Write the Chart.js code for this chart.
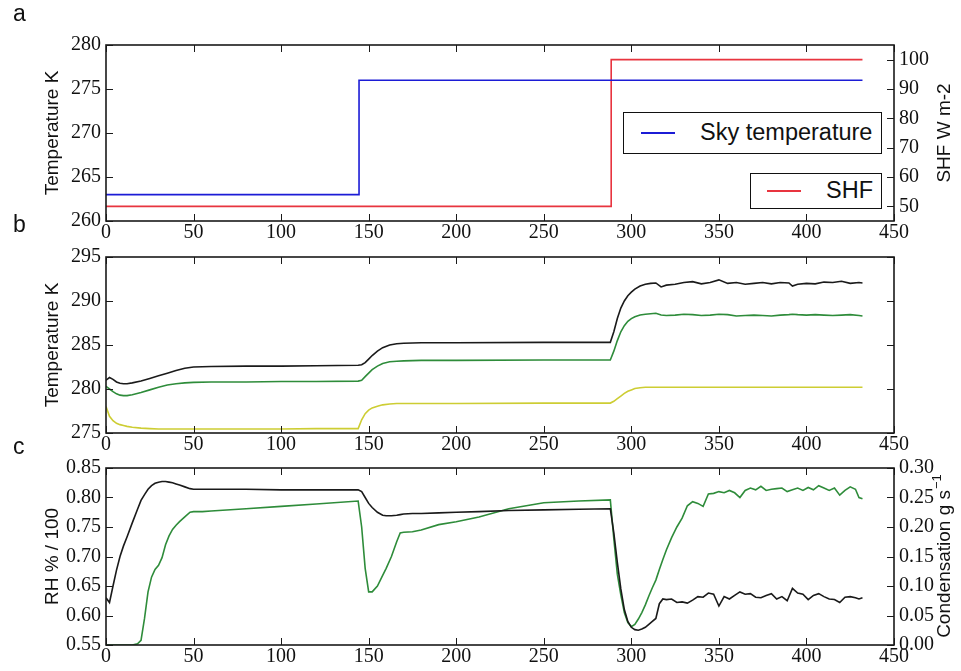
<!DOCTYPE html>
<html>
<head>
<meta charset="utf-8">
<script src="https://cdn.jsdelivr.net/npm/chart.js@4.4.0/dist/chart.umd.min.js"></script>
<style>
  body { margin: 0; background: #fff; width: 961px; height: 671px; position: relative; overflow: hidden; }
  canvas { position: absolute; left: 0; }
  .lab { position: absolute; font: 23px "Liberation Sans", sans-serif; color: #111; z-index: 5; }
  .leg { position: absolute; border: 1.5px solid #111; background: #fff; box-sizing: border-box; z-index: 5; }
  .leg i { position: absolute; height: 2px; }
  .leg span { position: absolute; font: 23.5px "Liberation Sans", sans-serif; color: #111; white-space: nowrap; line-height: 1; }
</style>
</head>
<body>
<div class="lab" style="left:13px;top:0px">a</div>
<div class="lab" style="left:13px;top:211px">b</div>
<div class="lab" style="left:13px;top:433px">c</div>
<canvas id="ca" width="961" height="250" style="top:0px"></canvas>
<canvas id="cb" width="961" height="230" style="top:230px"></canvas>
<canvas id="cc" width="961" height="231" style="top:440px"></canvas>
<div id="legends"></div>
<script>
// panel a: step inputs
var skyTimes = [0, 144.5, 144.5, 432];
var skyTemps = [263, 263, 276, 276];
var shfTimes = [0, 288.5, 288.5, 432];
var shfValues = [50, 50, 100, 100];

// panel b: temperatures (K)
var tempTimes = [0, 2, 4, 6, 8, 10, 12, 15, 20, 25, 30, 35, 40, 45, 50, 60, 80, 100, 120, 144, 146, 148, 150, 152, 155, 158, 162, 166, 170, 180, 200, 250, 288, 290, 292, 294, 296, 298, 300, 302, 305, 308, 311, 314, 317, 320, 325, 330, 335, 340, 345, 350, 355, 360, 365, 370, 375, 380, 385, 390, 392, 395, 400, 405, 410, 415, 420, 425, 430, 432];
var tempBlack = [281.0, 281.3, 281.1, 280.8, 280.65, 280.6, 280.6, 280.7, 280.9, 281.2, 281.5, 281.8, 282.1, 282.35, 282.5, 282.55, 282.6, 282.6, 282.65, 282.7, 282.75, 283.0, 283.4, 283.8, 284.3, 284.7, 285.0, 285.15, 285.2, 285.25, 285.25, 285.3, 285.3, 286.5, 288.0, 289.2, 290.0, 290.6, 291.0, 291.35, 291.7, 291.9, 292.0, 292.05, 291.6, 291.8, 291.9, 292.1, 292.2, 291.95, 292.1, 292.4, 292.0, 292.1, 291.9, 292.0, 292.1, 291.95, 292.1, 292.05, 291.7, 291.9, 292.0, 291.95, 292.15, 292.1, 292.25, 292.0, 292.1, 292.05];
var tempGreen = [280.3, 280.0, 279.7, 279.45, 279.3, 279.25, 279.25, 279.35, 279.6, 279.9, 280.2, 280.45, 280.6, 280.7, 280.75, 280.8, 280.8, 280.85, 280.85, 280.9, 281.0, 281.4, 281.8, 282.2, 282.6, 282.9, 283.1, 283.15, 283.2, 283.25, 283.25, 283.3, 283.3, 284.3, 285.5, 286.5, 287.2, 287.7, 288.0, 288.2, 288.4, 288.5, 288.55, 288.6, 288.4, 288.35, 288.4, 288.5, 288.45, 288.35, 288.4, 288.5, 288.45, 288.3, 288.35, 288.4, 288.35, 288.3, 288.4, 288.45, 288.5, 288.45, 288.4, 288.45, 288.4, 288.35, 288.4, 288.45, 288.35, 288.3];
var tempYellow = [278.0, 276.9, 276.4, 276.1, 275.95, 275.85, 275.75, 275.65, 275.55, 275.5, 275.45, 275.45, 275.45, 275.45, 275.45, 275.45, 275.45, 275.45, 275.5, 275.5, 276.5, 277.2, 277.6, 277.85, 278.05, 278.2, 278.3, 278.35, 278.35, 278.35, 278.35, 278.4, 278.4, 278.6, 278.9, 279.2, 279.5, 279.75, 279.9, 280.05, 280.15, 280.2, 280.2, 280.2, 280.2, 280.2, 280.2, 280.2, 280.2, 280.2, 280.2, 280.2, 280.2, 280.2, 280.2, 280.2, 280.2, 280.2, 280.2, 280.2, 280.2, 280.2, 280.2, 280.2, 280.2, 280.2, 280.2, 280.2, 280.2, 280.2];

// panel c: relative humidity (left) and condensation (right)
var rhTimes = [0, 2, 4, 6, 8, 10, 12, 15, 18, 20, 22, 24, 26, 28, 30, 32, 34, 36, 38, 40, 42, 45, 48, 50, 55, 60, 80, 100, 120, 144, 146, 148, 150, 152, 155, 158, 160, 163, 166, 168, 170, 175, 180, 190, 200, 213, 230, 250, 270, 288, 290, 292, 294, 296, 298, 300, 302, 304, 306, 308, 310, 312, 314, 316, 318, 320, 323, 326, 329, 332, 335, 338, 341, 344, 347, 350, 353, 356, 359, 362, 365, 368, 371, 374, 377, 380, 383, 386, 389, 392, 395, 398, 401, 404, 407, 410, 413, 416, 419, 422, 425, 428, 430, 432];
var rhBlack = [0.63, 0.622, 0.65, 0.677, 0.70, 0.718, 0.733, 0.757, 0.78, 0.795, 0.805, 0.814, 0.82, 0.824, 0.826, 0.827, 0.827, 0.826, 0.825, 0.823, 0.821, 0.818, 0.815, 0.814, 0.814, 0.814, 0.814, 0.813, 0.813, 0.813, 0.81, 0.80, 0.79, 0.783, 0.775, 0.77, 0.769, 0.769, 0.77, 0.771, 0.772, 0.773, 0.773, 0.774, 0.775, 0.776, 0.778, 0.779, 0.78, 0.781, 0.74, 0.69, 0.645, 0.61, 0.59, 0.58, 0.576, 0.575, 0.577, 0.58, 0.585, 0.59, 0.595, 0.62, 0.628, 0.627, 0.628, 0.622, 0.623, 0.621, 0.626, 0.632, 0.631, 0.638, 0.636, 0.616, 0.632, 0.628, 0.634, 0.64, 0.636, 0.637, 0.631, 0.63, 0.634, 0.637, 0.628, 0.632, 0.625, 0.646, 0.638, 0.636, 0.627, 0.634, 0.637, 0.632, 0.628, 0.627, 0.622, 0.631, 0.632, 0.63, 0.628, 0.63];
var condGreen = [0, 0, 0, 0, 0, 0, 0, 0, 0.002, 0.008, 0.045, 0.09, 0.115, 0.128, 0.135, 0.148, 0.17, 0.185, 0.196, 0.203, 0.209, 0.217, 0.225, 0.226, 0.226, 0.227, 0.231, 0.235, 0.239, 0.244, 0.2, 0.13, 0.09, 0.09, 0.1, 0.118, 0.13, 0.15, 0.175, 0.19, 0.191, 0.192, 0.195, 0.204, 0.209, 0.217, 0.231, 0.241, 0.244, 0.246, 0.18, 0.12, 0.085, 0.055, 0.038, 0.031, 0.035, 0.044, 0.055, 0.068, 0.083, 0.097, 0.11, 0.128, 0.145, 0.161, 0.182, 0.2, 0.215, 0.236, 0.243, 0.24, 0.235, 0.256, 0.257, 0.26, 0.258, 0.262, 0.258, 0.25, 0.262, 0.266, 0.263, 0.269, 0.262, 0.264, 0.265, 0.266, 0.26, 0.263, 0.266, 0.262, 0.267, 0.263, 0.27, 0.266, 0.262, 0.266, 0.254, 0.262, 0.268, 0.264, 0.25, 0.248];

// tick labels
var xTicks = [0, 50, 100, 150, 200, 250, 300, 350, 400, 450];
var aLeftTicks = [260, 265, 270, 275, 280];
var aRightTicks = [50, 60, 70, 80, 90, 100];
var bTicks = [275, 280, 285, 290, 295];
var cLeftTicks = [0.55, 0.60, 0.65, 0.70, 0.75, 0.80, 0.85];
var cRightTicks = [0, 0.05, 0.10, 0.15, 0.20, 0.25, 0.30];

var tickFont = { family: 'Liberation Serif', size: 20 };
var titleFont = { family: 'Liberation Sans', size: 19 };

function pts(xs, ys) {
  return xs.map(function (x, i) { return { x: x, y: ys[i] }; });
}

function fixTicks(arr) {
  return function (scale) { scale.ticks = arr.map(function (v) { return { value: v }; }); };
}

// draws the matplotlib style box and inward ticks, plus a right-hand title
var framePlugin = {
  id: 'frame',
  afterDraw: function (chart, args, opts) {
    var ctx = chart.ctx, a = chart.chartArea, s = chart.scales;
    ctx.save();
    ctx.strokeStyle = '#1a1a1a';
    ctx.lineWidth = 1;
    ctx.beginPath();
    s.x.ticks.forEach(function (t) {
      var px = Math.round(s.x.getPixelForValue(t.value)) + 0.5;
      ctx.moveTo(px, a.bottom); ctx.lineTo(px, a.bottom - 7);
      ctx.moveTo(px, a.top); ctx.lineTo(px, a.top + 7);
    });
    s.y.ticks.forEach(function (t) {
      var py = Math.round(s.y.getPixelForValue(t.value)) + 0.5;
      ctx.moveTo(a.left, py); ctx.lineTo(a.left + 7, py);
      if (!s.y2) { ctx.moveTo(a.right, py); ctx.lineTo(a.right - 7, py); }
    });
    if (s.y2) {
      s.y2.ticks.forEach(function (t) {
        var py = Math.round(s.y2.getPixelForValue(t.value)) + 0.5;
        ctx.moveTo(a.right, py); ctx.lineTo(a.right - 7, py);
      });
    }
    ctx.stroke();
    ctx.lineWidth = 1.6;
    ctx.strokeRect(a.left, a.top, a.right - a.left, a.bottom - a.top);

    if (opts && opts.text) {
      var cy = (a.top + a.bottom) / 2;
      ctx.translate(945, cy);
      ctx.rotate(-Math.PI / 2);
      ctx.fillStyle = '#111';
      ctx.textBaseline = 'middle';
      ctx.font = '19px "Liberation Sans"';
      var w = ctx.measureText(opts.text).width;
      var sw = 0;
      if (opts.sup) {
        ctx.font = '13px "Liberation Sans"';
        sw = ctx.measureText(opts.sup).width;
      }
      var x0 = -(w + sw) / 2;
      ctx.font = '19px "Liberation Sans"';
      ctx.textAlign = 'left';
      ctx.fillText(opts.text, x0, 0);
      if (opts.sup) {
        ctx.font = '13px "Liberation Sans"';
        ctx.fillText(opts.sup, x0 + w + 1, -8);
      }
    }
    ctx.restore();
  }
};

function xAxis(h) {
  return {
    type: 'linear', min: 0, max: 450,
    afterBuildTicks: fixTicks(xTicks),
    afterFit: function (s) { s.height = h; },
    grid: { display: false, drawTicks: false },
    border: { display: false },
    ticks: { font: tickFont, color: '#111', padding: 0, maxRotation: 0 }
  };
}

function yAxis(pos, min, max, ticks, title, decimals) {
  var ax = {
    type: 'linear', position: pos, min: min, max: max,
    afterBuildTicks: fixTicks(ticks),
    afterFit: function (s) { s.width = pos === 'left' ? 106 : 67; },
    grid: { display: false, drawTicks: false },
    border: { display: false },
    ticks: {
      font: tickFont, color: '#111', padding: 5,
      callback: function (v) { return decimals ? v.toFixed(decimals) : String(v); }
    }
  };
  if (title) {
    ax.title = { display: true, text: title, font: titleFont, color: '#111', padding: { top: 41, bottom: 0 } };
  }
  return ax;
}

function baseOptions(padTop, padRight, scales, rightTitle) {
  return {
    responsive: false,
    animation: false,
    layout: { padding: { top: padTop, right: padRight, left: 0, bottom: 0 } },
    elements: { point: { radius: 0 }, line: { tension: 0, borderWidth: 1.6 } },
    plugins: { legend: { display: false }, tooltip: { enabled: false }, frame: rightTitle || {} },
    scales: scales
  };
}

var skyColor = '#1c1cd6', shfColor = '#e8343f', blackColor = '#1a1a1a', greenColor = '#2e8c3a', yellowColor = '#cdcd33';

var chartA = new Chart(document.getElementById('ca'), {
  type: 'line',
  data: {
    datasets: [
      { label: 'Sky temperature', data: pts(skyTimes, skyTemps), borderColor: skyColor, yAxisID: 'y' },
      { label: 'SHF', data: pts(shfTimes, shfValues), borderColor: shfColor, yAxisID: 'y2' }
    ]
  },
  options: baseOptions(45, 0, {
    x: xAxis(29),
    y: yAxis('left', 260, 280, aLeftTicks, 'Temperature K'),
    y2: yAxis('right', 45, 105, aRightTicks, null)
  }, { text: 'SHF W m-2' }),
  plugins: [framePlugin]
});

new Chart(document.getElementById('cb'), {
  type: 'line',
  data: {
    datasets: [
      { label: 'Black', data: pts(tempTimes, tempBlack), borderColor: blackColor },
      { label: 'Green', data: pts(tempTimes, tempGreen), borderColor: greenColor },
      { label: 'Yellow', data: pts(tempTimes, tempYellow), borderColor: yellowColor }
    ]
  },
  options: baseOptions(27, 67, {
    x: xAxis(27),
    y: yAxis('left', 275, 295, bTicks, 'Temperature K')
  }),
  plugins: [framePlugin]
});

new Chart(document.getElementById('cc'), {
  type: 'line',
  data: {
    datasets: [
      { label: 'RH', data: pts(rhTimes, rhBlack), borderColor: blackColor, yAxisID: 'y' },
      { label: 'Condensation', data: pts(rhTimes, condGreen), borderColor: greenColor, yAxisID: 'y2' }
    ]
  },
  options: baseOptions(28, 0, {
    x: xAxis(26),
    y: yAxis('left', 0.55, 0.85, cLeftTicks, 'RH % / 100', 2),
    y2: yAxis('right', 0, 0.30, cRightTicks, null, 2)
  }, { text: 'Condensation g s', sup: '\u22121' }),
  plugins: [framePlugin]
});

// two separate legend boxes for panel a, built from the datasets
var legendBoxes = [
  { left: 623, top: 112, width: 259, height: 42, lineX: 17, textX: 76 },
  { left: 750, top: 173, width: 132, height: 36, lineX: 16, textX: 75 }
];
var holder = document.getElementById('legends');
chartA.data.datasets.forEach(function (ds, i) {
  var b = legendBoxes[i];
  var box = document.createElement('div');
  box.className = 'leg';
  box.style.left = b.left + 'px'; box.style.top = b.top + 'px';
  box.style.width = b.width + 'px'; box.style.height = b.height + 'px';
  var ln = document.createElement('i');
  ln.style.left = b.lineX + 'px'; ln.style.width = '34px';
  ln.style.top = (b.height / 2 - 2) + 'px';
  ln.style.background = ds.borderColor;
  var tx = document.createElement('span');
  tx.textContent = ds.label;
  tx.style.left = b.textX + 'px';
  tx.style.top = (b.height / 2 - 13) + 'px';
  box.appendChild(ln); box.appendChild(tx);
  holder.appendChild(box);
});
</script>
</body>
</html>
